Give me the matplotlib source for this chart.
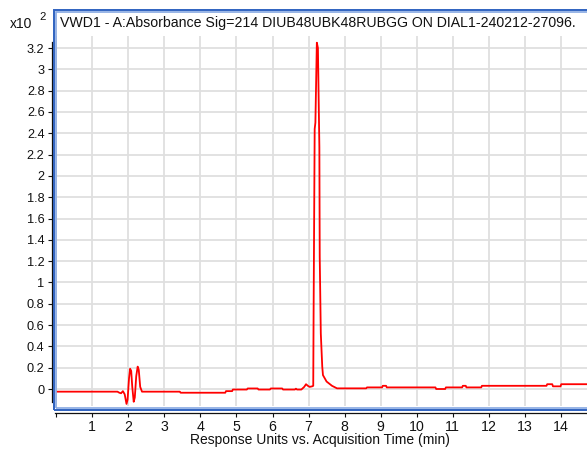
import matplotlib
matplotlib.use("Agg")
import matplotlib.pyplot as plt
from matplotlib.patches import Rectangle

plt.rcParams['font.family'] = ['Liberation Sans', 'DejaVu Sans']

# ---- data ----
time_min = [0.03, 1.70, 1.75, 1.80, 1.85, 1.90, 1.95, 1.98, 2.02, 2.05, 2.08, 2.11,
            2.15, 2.18, 2.22, 2.26, 2.29, 2.33, 2.38, 3.43, 3.45, 4.69, 4.71, 4.88,
            4.90, 5.29, 5.31, 5.59, 5.61, 5.93, 5.95, 6.27, 6.29, 6.62, 6.65, 6.68,
            6.80, 6.88, 6.93, 6.98, 7.03, 7.10, 7.13, 7.14, 7.17, 7.19, 7.23, 7.26,
            7.30, 7.31, 7.34, 7.38, 7.40, 7.50, 7.65, 7.79, 8.60, 8.62, 9.04, 9.06,
            9.15, 9.17, 10.52, 10.54, 10.79, 10.81, 11.26, 11.28, 11.36, 11.38, 11.79,
            11.81, 13.60, 13.62, 13.76, 13.78, 13.99, 14.01, 14.75]
response = [-0.025, -0.025, -0.035, -0.04, -0.02, -0.05, -0.14, -0.10, 0.10, 0.19, 0.17, 0.02,
            -0.12, -0.08, 0.12, 0.21, 0.18, 0.02, -0.025, -0.025, -0.035, -0.035, -0.02, -0.02,
            -0.005, -0.005, 0.005, 0.005, -0.005, -0.005, 0.005, 0.005, -0.005, -0.005, 0.003, -0.005,
            -0.005, 0.02, 0.045, 0.03, 0.02, 0.025, 0.03, 0.71, 2.44, 2.50, 3.25, 3.20,
            2.27, 1.24, 0.52, 0.21, 0.13, 0.07, 0.03, 0.006, 0.006, 0.015, 0.015, 0.03,
            0.03, 0.015, 0.015, 0.0, 0.0, 0.015, 0.015, 0.03, 0.03, 0.015, 0.015,
            0.03, 0.03, 0.045, 0.045, 0.025, 0.025, 0.045, 0.045]

x_ticks = list(range(0, 15))
x_tick_labels = [''] + [str(i) for i in range(1, 15)]
y_ticks = [round(0.2 * i, 1) for i in range(0, 17)]
y_tick_labels = ['%g' % v for v in y_ticks]

title = "VWD1 - A:Absorbance Sig=214 DIUB48UBK48RUBGG ON DIAL1-240212-27096."
x_label = "Response Units vs. Acquisition Time (min)"

# ---- layout (pixel based) ----
W, H = 587, 451
fig = plt.figure(figsize=(W / 100, H / 100), dpi=100)

def fx(x):
    return x / W

def fy(y):
    return 1 - y / H

ax_left, ax_right, ax_top, ax_bottom = 56.2, 587.0, 36.0, 406.0
ax = fig.add_axes([fx(ax_left), fy(ax_bottom), (ax_right - ax_left) / W, (ax_bottom - ax_top) / H])
px_per_min = 36.05
ax.set_xlim(0, (ax_right - ax_left) / px_per_min)
px_per_unit = 106.56
ax.set_ylim((389 - ax_bottom) / px_per_unit, (389 - ax_top) / px_per_unit)

ax.plot(time_min, response, color='#ff0000', lw=1.3, zorder=3)

ax.set_xticks(x_ticks)
ax.set_xticklabels(x_tick_labels)
ax.set_yticks(y_ticks)
ax.set_yticklabels(y_tick_labels)
ax.grid(True, color='#dfdfdf', lw=1.3, zorder=0)
ax.set_axisbelow(True)

for s in ['top', 'right']:
    ax.spines[s].set_visible(False)
ax.spines['left'].set_position(('outward', 3.2))
ax.spines['left'].set_bounds(-0.122, 3.26)
ax.spines['bottom'].set_position(('outward', 5.0))
ax.spines['bottom'].set_bounds(-0.03, 14.8)
for s in ['left', 'bottom']:
    ax.spines[s].set_linewidth(0.9)
    ax.spines[s].set_color('#111111')

ax.tick_params(axis='x', direction='out', length=3.0, width=0.8, pad=2.4,
               labelsize=10.2, colors='#111111')
ax.tick_params(axis='y', direction='out', length=3.2, width=0.8, pad=2.0,
               labelsize=9.2, colors='#111111')

# blue frame around the plot area
outer = Rectangle((fx(54.0), fy(409.5)), (700 - 54.0) / W, (409.5 - 10.0) / H,
                  transform=fig.transFigure, fill=False, edgecolor='#2f62c0',
                  lw=1.4, zorder=10)
inner = Rectangle((fx(55.6), fy(407.9)), (700 - 55.6) / W, (407.9 - 11.6) / H,
                  transform=fig.transFigure, fill=False, edgecolor='#86a8e2',
                  lw=1.2, zorder=10)
fig.add_artist(outer)
fig.add_artist(inner)

fig.text(fx(60), fy(22.5), title, fontsize=10.15, ha='left', va='center', color='#111111')
fig.text(fx(9.5), fy(23.5), 'x10', fontsize=10.0, ha='left', va='center', color='#111111')
fig.text(fx(39), fy(17.5), '2', fontsize=8.2, ha='left', va='center', color='#111111')
fig.text(fx(320), fy(440), x_label, fontsize=10.0, ha='center', va='center', color='#111111')

fig.savefig('out.png', dpi=100)
